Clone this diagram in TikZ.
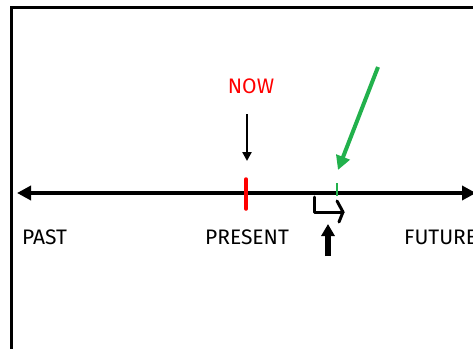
\documentclass[tikz,border=0pt]{standalone}
\usepackage{fontspec}
\setmainfont{Fira Sans}
\usetikzlibrary{arrows.meta}
\definecolor{pgreen}{RGB}{34,177,76}
\tikzset{
  lbl/.style={font=\fontsize{21}{23}\selectfont, inner sep=0pt},
}
\begin{document}
\begin{tikzpicture}[x=1pt,y=-1pt]
\useasboundingbox (0,0) rectangle (473,348);
\clip (0,0) rectangle (473,348);
% frame
\draw[line width=3pt] (11,360) -- (11,7) -- (490,7);
% axis
\coordinate (L) at (17,193);
\coordinate (R) at (476,193);
\draw[line width=4pt, {Triangle[length=14pt,width=14pt]}-{Triangle[length=14pt,width=14pt]}] (L) -- (R);
% ticks
\coordinate (rt) at (246,179);
\coordinate (rb) at (246,209);
\draw[red, line width=3.5pt, line cap=round] (rt) -- (rb);
\coordinate (gt) at (337,183);
\coordinate (gb) at (337,196);
\draw[pgreen, line width=2.5pt] (gt) -- (gb);
% labels
\node[lbl, anchor=west] (past) at (22,237) {PAST};
\node[lbl] (present) at (247,237) {PRESENT};
\node[lbl, anchor=west] (future) at (404,237) {FUTURE};
\node[lbl, red] (now) at (251,86) {NOW};
% NOW arrow
\coordinate (nowa) at (247,114);
\coordinate (nowb) at (247,161);
\draw[line width=2.5pt, -{Triangle[length=9pt,width=9pt]}] (nowa) -- (nowb);
% green arrow
\coordinate (ga) at (378,67);
\coordinate (gtip) at (338,170);
\draw[pgreen, line width=4pt, -{Triangle[length=14pt,width=14pt]}] (ga) -- (gtip);
% hook arrow
\coordinate (h1) at (314,197);
\coordinate (h2) at (314,212);
\coordinate (h3) at (343,212);
\draw[line width=3pt, line join=round, line cap=round] (h1) -- (h2) -- (h3);
\draw[line width=3pt, line join=round, line cap=round] (337,201) -- (h3) -- (339,222);
% up arrow
\coordinate (ua) at (328,256);
\coordinate (ub) at (328,224);
\draw[line width=6pt, -{Triangle[length=12pt,width=13pt]}] (ua) -- (ub);
\end{tikzpicture}
\end{document}
